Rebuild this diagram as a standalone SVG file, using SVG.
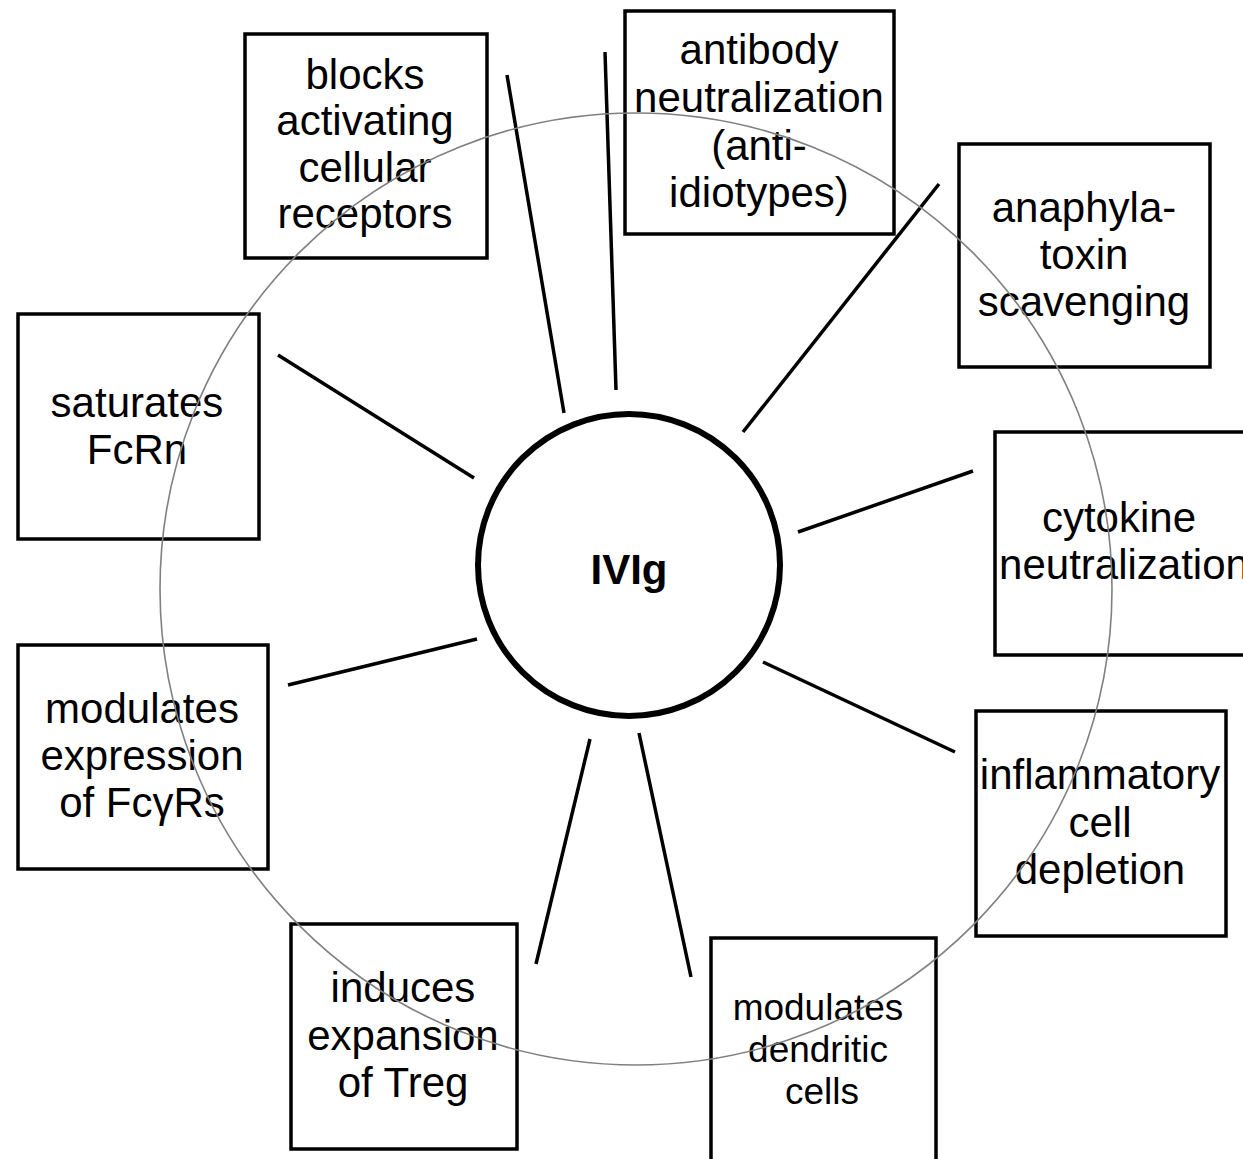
<svg xmlns="http://www.w3.org/2000/svg" width="1243" height="1159" viewBox="0 0 1243 1159">
<style>
.box{fill:#fff;stroke:#000;stroke-width:3.5}
.lbl{font-family:"Liberation Sans",Arial,sans-serif;font-size:42px;fill:#000;text-anchor:middle}
.sm{font-size:37px}
.conn line{stroke:#000;stroke-width:3.5}
.ring{fill:none;stroke:#808080;stroke-width:1.6}
</style>
<rect width="1243" height="1159" fill="#fff"/>
<g id="connectors" class="conn">
<line x1="507" y1="75" x2="564" y2="413"/>
<line x1="605" y1="52" x2="616" y2="390"/>
<line x1="939" y1="184" x2="743" y2="432"/>
<line x1="973" y1="471" x2="798" y2="532"/>
<line x1="763" y1="662" x2="955" y2="752"/>
<line x1="639" y1="733" x2="691" y2="977"/>
<line x1="590" y1="739" x2="536" y2="964"/>
<line x1="477" y1="639" x2="288" y2="685"/>
<line x1="474" y1="478" x2="278" y2="355"/>
</g>
<g id="ivig">
<circle cx="629" cy="565" r="151" fill="#fff" stroke="#000" stroke-width="6"/>
<text class="lbl" x="629" y="584" font-weight="bold" font-size="51">IVIg</text>
</g>
<g id="blocks">
<rect class="box" x="245" y="34" width="242" height="224"/>
<text class="lbl"><tspan x="365" y="89">blocks</tspan><tspan x="365" y="135">activating</tspan><tspan x="365" y="182">cellular</tspan><tspan x="365" y="228">receptors</tspan></text>
</g>
<g id="antibody">
<rect class="box" x="625" y="11" width="269" height="223"/>
<text class="lbl"><tspan x="759" y="64">antibody</tspan><tspan x="759" y="112">neutralization</tspan><tspan x="759" y="160">(anti-</tspan><tspan x="759" y="207">idiotypes)</tspan></text>
</g>
<g id="anaphylatoxin">
<rect class="box" x="959" y="144" width="251" height="223"/>
<text class="lbl"><tspan x="1084" y="222">anaphyla-</tspan><tspan x="1084" y="269">toxin</tspan><tspan x="1084" y="316">scavenging</tspan></text>
</g>
<g id="cytokine">
<rect class="box" x="995" y="432" width="252" height="223"/>
<text class="lbl"><tspan x="1119" y="532">cytokine</tspan><tspan x="1124" y="579">neutralization</tspan></text>
</g>
<g id="inflammatory">
<rect class="box" x="976" y="711" width="250" height="225"/>
<text class="lbl"><tspan x="1100" y="789">inflammatory</tspan><tspan x="1100" y="837">cell</tspan><tspan x="1100" y="884">depletion</tspan></text>
</g>
<g id="dendritic">
<rect class="box" x="711" y="938" width="225" height="240"/>
<text class="lbl sm"><tspan x="818" y="1020">modulates</tspan><tspan x="818" y="1062">dendritic</tspan><tspan x="822" y="1104">cells</tspan></text>
</g>
<g id="treg">
<rect class="box" x="291" y="924" width="226" height="225"/>
<text class="lbl"><tspan x="403" y="1002">induces</tspan><tspan x="403" y="1050">expansion</tspan><tspan x="403" y="1097">of Treg</tspan></text>
</g>
<g id="fcgr">
<rect class="box" x="18" y="645" width="250" height="224"/>
<text class="lbl"><tspan x="142" y="723">modulates</tspan><tspan x="142" y="770">expression</tspan><tspan x="142" y="817">of FcγRs</tspan></text>
</g>
<g id="fcrn">
<rect class="box" x="18" y="314" width="241" height="225"/>
<text class="lbl"><tspan x="137" y="417">saturates</tspan><tspan x="137" y="464">FcRn</tspan></text>
</g>
<circle class="ring" cx="636" cy="589" r="476"/>
</svg>
